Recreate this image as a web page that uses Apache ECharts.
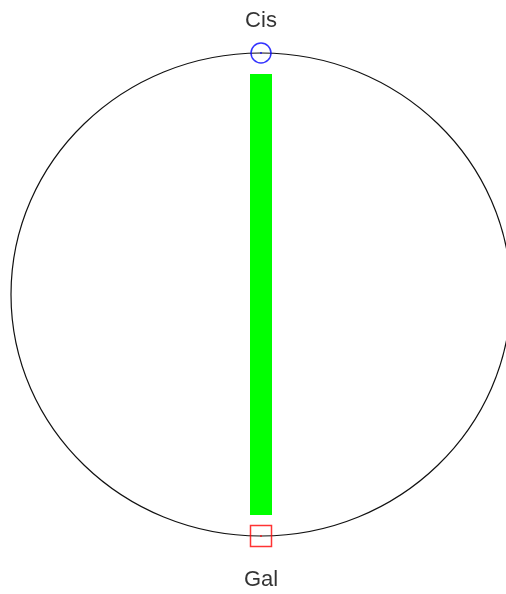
<!DOCTYPE html>
<html>
<head>
<meta charset="utf-8">
<script src="https://cdn.jsdelivr.net/npm/echarts@6/dist/echarts.min.js"></script>
<style>
html,body{margin:0;padding:0;background:#fff;}
#main{width:506px;height:594px;}
</style>
</head>
<body>
<div id="main"></div>
<script>
var names = ['Cis', 'Gal'];
var markerX = [0, 0];
var markerY = [1, -1];
var barFrom = [0, -0.913];
var barTo = [0, 0.913];
var ring = [0, 0, 1, 1]; // cx, cy, rx, ry

var myChart = echarts.init(document.getElementById('main'));

option = {
	animation: false,
	grid: {
		left: 11,
		top: 53,
		right: 0,
		bottom: 58
	},
	xAxis: {
		type: 'value',
		min: -1,
		max: 0.98,
		show: false
	},
	yAxis: {
		type: 'value',
		min: -1,
		max: 1,
		show: false
	},
	series: [
		{
			type: 'custom',
			silent: true,
			clip: false,
			data: [ring],
			renderItem: function (params, api) {
				var c = api.coord([api.value(0), api.value(1)]);
				var s = api.size([api.value(2), api.value(3)]);
				return {
					type: 'ellipse',
					shape: { cx: c[0], cy: c[1], rx: s[0], ry: s[1] },
					style: { fill: 'none', stroke: '#111', lineWidth: 1.2 }
				};
			}
		},
		{
			type: 'custom',
			silent: true,
			data: [[barFrom[0], barFrom[1], barTo[1]]],
			renderItem: function (params, api) {
				var p0 = api.coord([api.value(0), api.value(2)]);
				var p1 = api.coord([api.value(0), api.value(1)]);
				return {
					type: 'rect',
					shape: { x: p0[0] - 11, y: p0[1], width: 22, height: p1[1] - p0[1] },
					style: { fill: '#00ff00' }
				};
			}
		},
		{
			type: 'scatter',
			symbol: 'circle',
			symbolSize: 20,
			itemStyle: { color: 'transparent', borderColor: '#0000ff', borderWidth: 1.5 },
			label: {
				show: true,
				position: 'top',
				distance: 10,
				formatter: '{b}',
				color: '#000',
				fontSize: 22,
				fontFamily: 'Liberation Sans, Arial, sans-serif'
			},
			data: [{ name: names[0], value: [markerX[0], markerY[0]] }]
		},
		{
			type: 'scatter',
			symbol: 'rect',
			symbolSize: 21,
			itemStyle: { color: 'transparent', borderColor: '#ff0000', borderWidth: 1.5 },
			label: {
				show: true,
				position: 'bottom',
				distance: 22,
				formatter: '{b}',
				color: '#000',
				fontSize: 22,
				fontFamily: 'Liberation Sans, Arial, sans-serif'
			},
			data: [{ name: names[1], value: [markerX[1], markerY[1]] }]
		},
		{
			type: 'scatter',
			symbolSize: 2,
			itemStyle: { color: function (p) { return p.dataIndex === 0 ? '#0000ff' : '#ff0000'; } },
			data: [[markerX[0], markerY[0]], [markerX[1], markerY[1]]]
		}
	]
};
myChart.setOption(option, true);
</script>
</body>
</html>
